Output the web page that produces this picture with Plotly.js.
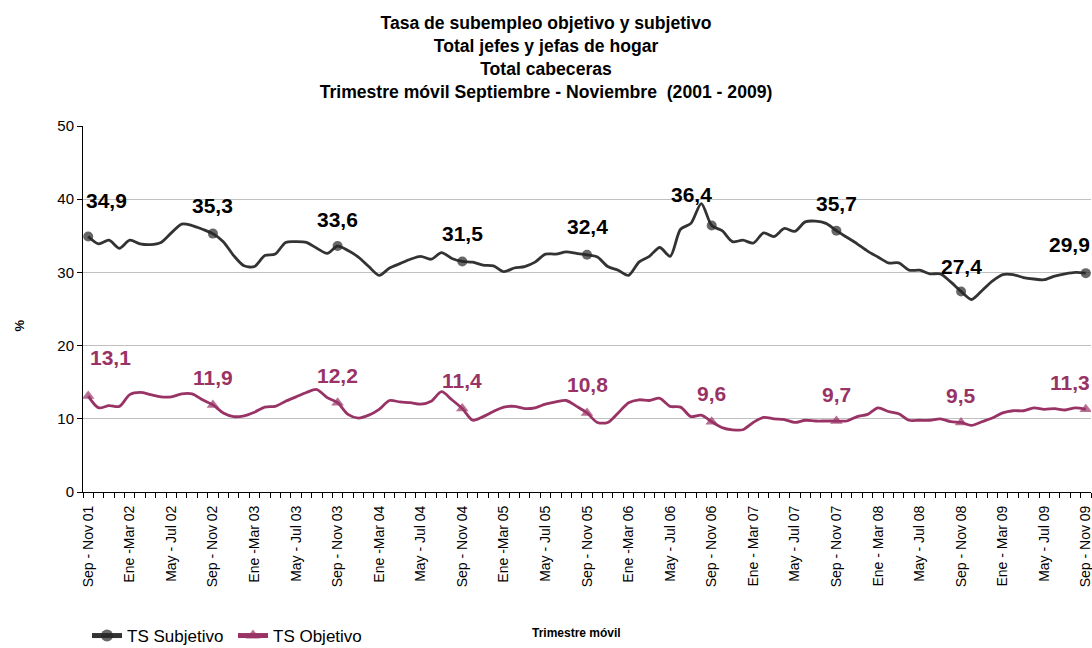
<!DOCTYPE html>
<html>
<head>
<meta charset="utf-8">
<script src="https://cdn.plot.ly/plotly-3.0.1.min.js"></script>
<style>
html,body{margin:0;padding:0;background:#fff;}
#chart{width:1092px;height:648px;}
</style>
</head>
<body>
<div id="chart"></div>
<script>
// ---- data ----
const tickLabels = [
  "Sep - Nov 01","Ene -Mar 02","May - Jul 02","Sep - Nov 02","Ene -Mar 03","May - Jul 03",
  "Sep - Nov 03","Ene -Mar 04","May - Jul 04","Sep - Nov 04","Ene -Mar 05","May - Jul 05",
  "Sep - Nov 05","Ene -Mar 06","May - Jul 06","Sep - Nov 06","Ene - Mar 07","May - Jul 07",
  "Sep - Nov 07","Ene - Mar 08","May - Jul 08","Sep - Nov 08","Ene - Mar 09","May - Jul 09",
  "Sep - Nov 09"
];
const tsSubjetivo = [
  34.9,33.9,34.4,33.3,34.4,33.9,33.8,34.1,35.4,36.6,36.4,35.9,
  35.3,34.2,32.3,30.9,30.8,32.3,32.5,34.1,34.2,34.1,33.3,32.6,
  33.6,33.0,32.1,30.8,29.6,30.6,31.2,31.8,32.2,31.8,32.7,31.9,
  31.5,31.4,31.0,30.9,30.1,30.6,30.8,31.4,32.5,32.5,32.8,32.6,
  32.4,32.1,30.8,30.3,29.6,31.4,32.2,33.4,32.2,35.9,36.7,39.4,
  36.4,35.7,34.2,34.4,34.0,35.4,34.9,36.0,35.6,36.9,37.0,36.7,
  35.7,34.8,33.9,32.9,32.1,31.3,31.3,30.3,30.3,29.8,29.8,28.7,
  27.4,26.3,27.5,28.8,29.7,29.7,29.3,29.1,29.0,29.5,29.8,30.0,
  29.9
];
const tsObjetivo = [
  13.1,11.5,11.8,11.7,13.3,13.6,13.3,13.0,13.0,13.4,13.4,12.6,
  11.9,10.8,10.3,10.4,10.9,11.6,11.7,12.4,13.0,13.6,14.0,12.9,
  12.2,10.6,10.1,10.5,11.3,12.5,12.3,12.2,12.0,12.4,13.7,12.6,
  11.4,9.8,10.3,11.0,11.6,11.7,11.4,11.5,12.0,12.3,12.5,11.7,
  10.8,9.5,9.5,10.8,12.2,12.6,12.5,12.8,11.7,11.6,10.3,10.5,
  9.6,8.8,8.5,8.5,9.5,10.2,10.0,9.9,9.5,9.8,9.7,9.7,
  9.7,9.7,10.3,10.6,11.5,11.0,10.7,9.8,9.8,9.8,10.0,9.6,
  9.5,9.1,9.6,10.1,10.8,11.1,11.1,11.5,11.3,11.4,11.2,11.5,
  11.3
];
const seriesNames = ["TS Subjetivo","TS Objetivo"];
const xTitle = "Trimestre móvil";
const yTitle = "%";

// ---- styles (label offsets in px, per Sep-Nov label) ----
const subjLabelShift = [[18,36],[0,28],[0,27],[0,28],[0,28],[-20,31],[0,27],[0,25],[-16,29]];
const objLabelShift  = [[22,39],[0,27],[0,27],[0,28],[0,28],[0,28],[0,27],[0,27],[-16,27]];
const colSubj = "#333333";
const colObj = "#993366";
const FONT = "Liberation Sans, Arial, sans-serif";

const n = tsSubjetivo.length;
const xIdx = tsSubjetivo.map((_, i) => i);
const tickVals = tickLabels.map((_, i) => i * 4);
const isSep = i => i % 12 === 0;
const fmt = v => v.toFixed(1).replace(".", ",");

const traces = [
  {
    x: xIdx, y: tsSubjetivo, name: seriesNames[0], type: "scatter", mode: "lines+markers",
    line: {color: colSubj, width: 2.8, shape: "spline", smoothing: 0.8},
    marker: {symbol: "circle", color: "#262626", size: xIdx.map(i => isSep(i) ? 10 : 0), line: {width: 0}},
    hoverinfo: "skip"
  },
  {
    x: xIdx, y: tsObjetivo, name: seriesNames[1], type: "scatter", mode: "lines+markers",
    line: {color: colObj, width: 2.8, shape: "spline", smoothing: 0.8},
    marker: {symbol: "triangle-up", color: colObj, size: xIdx.map(i => isSep(i) ? 11 : 0), line: {width: 0}},
    hoverinfo: "skip"
  }
];

const annotations = [];
const sepIdx = xIdx.filter(isSep);
sepIdx.forEach((k, j) => {
  annotations.push({
    x: k, y: tsSubjetivo[k], xref: "x", yref: "y", text: fmt(tsSubjetivo[k]), showarrow: false,
    xshift: subjLabelShift[j][0], yshift: subjLabelShift[j][1],
    font: {family: FONT, size: 21, color: "#000000", weight: "bold"}
  });
  annotations.push({
    x: k, y: tsObjetivo[k], xref: "x", yref: "y", text: fmt(tsObjetivo[k]), showarrow: false,
    xshift: objLabelShift[j][0], yshift: objLabelShift[j][1],
    font: {family: FONT, size: 21, color: colObj, weight: "bold"}
  });
});
// axis titles placed as in the reference
annotations.push({
  text: xTitle, xref: "paper", yref: "paper", x: 0.49, y: -(633 - 492) / 366,
  xanchor: "center", yanchor: "middle", showarrow: false,
  font: {family: FONT, size: 12, color: "#000000", weight: "bold"}
});
annotations.push({
  text: yTitle, xref: "paper", yref: "paper", x: -(82.5 - 18) / 1008.5, y: (492 - 326) / 366,
  xanchor: "center", yanchor: "middle", showarrow: false, textangle: -90,
  font: {family: FONT, size: 13, color: "#000000", weight: "bold"}
});

const layout = {
  width: 1092, height: 648,
  margin: {l: 82.5, r: 1, t: 126, b: 156, pad: 0},
  paper_bgcolor: "#ffffff", plot_bgcolor: "#ffffff",
  font: {family: FONT, color: "#000000"},
  title: {
    text: "Tasa de subempleo objetivo y subjetivo<br>Total jefes y jefas de hogar<br>Total cabeceras<br>Trimestre móvil Septiembre - Noviembre  (2001 - 2009)",
    font: {family: FONT, size: 17.6, color: "#000000", weight: "bold"},
    x: 0.5, xref: "container", xanchor: "center",
    y: 1 - 29 / 648, yref: "container", yanchor: "middle"
  },
  xaxis: {
    range: [-0.5, n - 0.5], fixedrange: true,
    tickmode: "array", tickvals: tickVals, ticktext: tickLabels, tickangle: -90,
    ticks: "outside", ticklen: 7, tickcolor: "rgba(0,0,0,0)",
    ticklabeloverflow: "allow",
    tickfont: {family: FONT, size: 14, color: "#000000"},
    minor: {tickmode: "linear", tick0: -0.5, dtick: 1, ticks: "outside", ticklen: 5, tickcolor: "#000000", tickwidth: 1, showgrid: false},
    showline: true, linecolor: "#000000", linewidth: 1,
    showgrid: false, zeroline: false,
    title: {text: ""}
  },
  yaxis: {
    range: [0, 50], dtick: 10, tick0: 0, fixedrange: true,
    ticks: "outside", ticklen: 5, tickcolor: "#000000",
    tickfont: {family: FONT, size: 15, color: "#000000"},
    showline: true, linecolor: "#000000", linewidth: 1,
    showgrid: true, gridcolor: "#c0c0c0", gridwidth: 1, zeroline: false,
    title: {text: ""}
  },
  showlegend: true,
  legend: {
    orientation: "h", xref: "container", yref: "container",
    x: 87 / 1092, y: 12 / 648, xanchor: "left", yanchor: "middle",
    font: {family: FONT, size: 17, color: "#000000"},
    itemsizing: "constant", bgcolor: "rgba(0,0,0,0)", tracegroupgap: 0,
    entrywidth: 101
  },
  annotations: annotations
};

Plotly.newPlot("chart", traces, layout, {staticPlot: true, displayModeBar: false});
</script>
</body>
</html>
